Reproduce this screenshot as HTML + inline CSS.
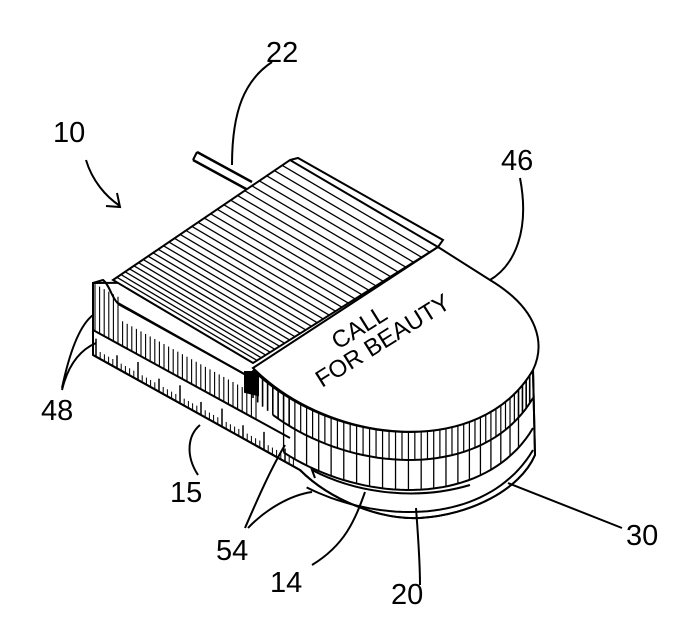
<!DOCTYPE html>
<html><head><meta charset="utf-8"><style>
html,body{margin:0;padding:0;background:#fff;}
svg{display:block}
text{font-family:"Liberation Sans",sans-serif;font-size:29px;fill:#000;stroke:none}
</style></head><body>
<svg id="s" width="687" height="643" viewBox="0 0 687 643" xmlns="http://www.w3.org/2000/svg" fill="none" stroke="#000" stroke-width="2">
<path d="M197,152 L252,182 M193,160 L248,190" stroke-width="2.5"/>
<path d="M197,152 L193,160" />
<g id="g"></g>
<path d="M113,280 L290,160 L438,247 L253,363 Z" fill="#fff"/>
<path d="M290,160 L298,158 L443,240 L438,247" />
<path d="M253,368 L438,247 L490,280 C540,310 545,345 533,370 C480,460 330,445 253,368 Z" fill="#fff"/>
<g id="g2"></g>
<path d="M93,283 L93,355 M93,283 L103,280 C110,285 112,300 120,305 L255,380" />
<text transform="translate(338,350) rotate(-32)" style="font-size:24px">CALL</text>
<text transform="translate(322,388) rotate(-32)" style="font-size:24px">FOR BEAUTY</text>
<text x="266" y="62">22</text>
<text x="53" y="142">10</text>
<text x="501" y="170">46</text>
<text x="41" y="420">48</text>
<text x="170" y="502">15</text>
<text x="216" y="560">54</text>
<text x="270" y="592">14</text>
<text x="391" y="604">20</text>
<text x="626" y="545">30</text>
<path d="M272,62 C245,80 232,110 232,165" />
<path d="M86,160 C92,180 105,196 120,206 M106,206 L120,207 L117,193" />
<path d="M520,178 C530,230 515,265 490,280" />
<path d="M62,388 C70,350 80,325 93,315 M62,390 C68,365 80,350 96,343" />
<path d="M198,475 C185,455 188,435 200,425" />
<path d="M245,528 C255,505 270,470 285,445 M248,528 C265,510 290,495 312,492" />
<path d="M312,565 C345,545 355,520 365,492" />
<path d="M420,585 C420,560 418,535 416,508" />
<path d="M622,528 L508,483" />
</svg>
<script>
var NS='http://www.w3.org/2000/svg';var g=document.getElementById('g');
function L(x1,y1,x2,y2,w){var l=document.createElementNS(NS,'line');l.setAttribute('x1',x1);l.setAttribute('y1',y1);l.setAttribute('x2',x2);l.setAttribute('y2',y2);l.setAttribute('stroke-width',w||1.3);g.appendChild(l);}
function P(d,f){var p=document.createElementNS(NS,'path');p.setAttribute('d',d);if(f)p.setAttribute('fill',f);g.appendChild(p);}
P('M93,355 L300,470 C330,500 380,520 420,518 C470,515 520,490 535,455 L533,370 L490,280 L93,283 Z','#fff');
function cub(t,y0){var a=[253,330,480,533],b=[y0,y0+75,y0+90,y0];var u=1-t;return[u*u*u*a[0]+3*u*u*t*a[1]+3*u*t*t*a[2]+t*t*t*a[3],u*u*u*b[0]+3*u*u*t*b[1]+3*u*t*t*b[2]+t*t*t*b[3]];}
function curve(y0,t0){var d='';for(var i=0;i<=40;i++){var t=t0+(1-t0)*i/40;var p=cub(t,y0);d+=(i?'L':'M')+p[0].toFixed(1)+','+p[1].toFixed(1);}P(d);}
curve(370,0);curve(398,0.08);curve(428,0.12);curve(450,0.2);
P('M533,370 L535,455');
P('M300,470 C330,500 380,520 420,518 C470,515 520,490 535,455');
P('M315,478 L312,470 C360,495 420,500 470,485');
for(var i=0;i<50;i++){var t=i/50;var p=cub(t,370);L(p[0],p[1],p[0],p[1]+28,(t<0.15||t>0.9)?1.6:1.2);}
for(var i=3;i<24;i++){var p=cub(i/25,398);L(p[0],p[1],p[0],p[1]+30,1.3);}
P('M93,330 L290,438');P('M93,355 L300,470');P('M118,303 L255,380 L255,395');
for(var i=0;i<36;i++){var x=95+i*4.6;L(x,283+(x<120?0:22)+(x-93)*0.55,x,330+(x-93)*0.55,1.1);}
for(var i=0;i<48;i++){var x=96+i*4.2;var h=(i%10==0)?18:(i%5==0?13:7);L(x,355+(x-93)*0.555-h,x,355+(x-93)*0.555,i%5==0?1.5:1);}
P('M245,372 L258,372 L258,395 L245,392 Z','#000');
g=document.getElementById('g2');
var A=[113,280],B=[290,160],C=[253,363],D=[438,247];
for(var i=1;i<30;i++){var t=i/30;t=t*t*0.35+t*0.65;L(A[0]+(B[0]-A[0])*t,A[1]+(B[1]-A[1])*t,C[0]+(D[0]-C[0])*t,C[1]+(D[1]-C[1])*t,1.3);}
</script>
</body></html>
